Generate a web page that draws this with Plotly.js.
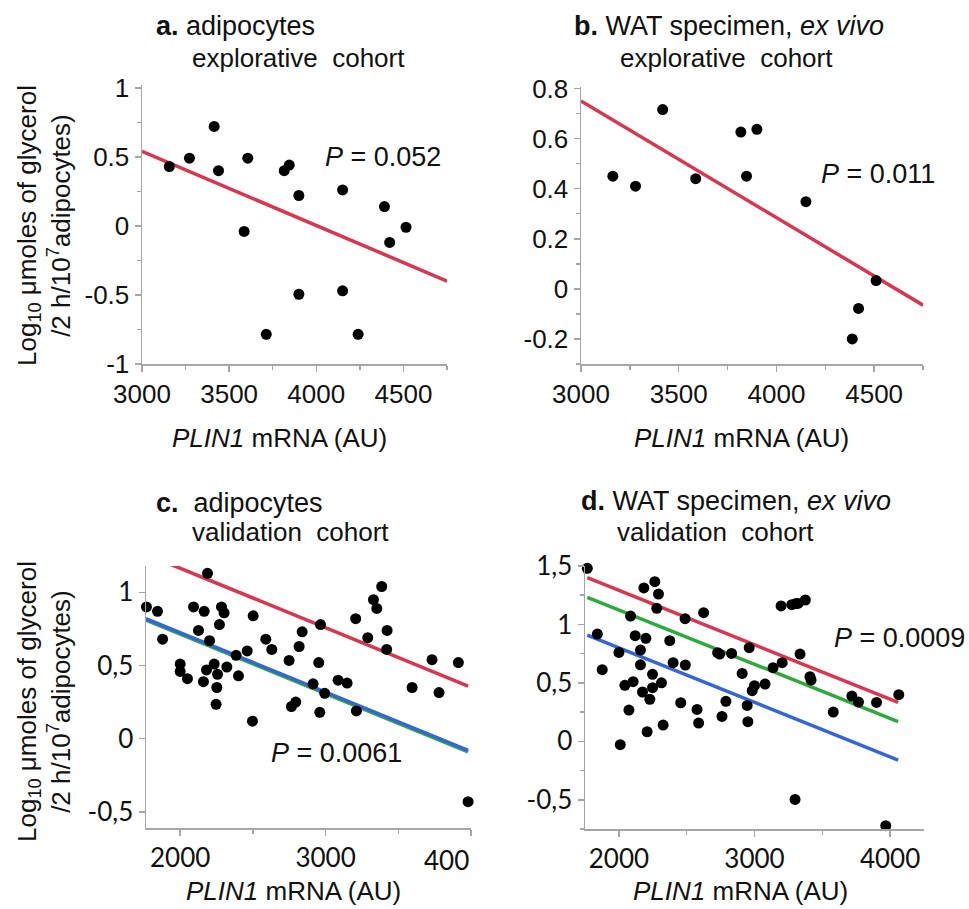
<!DOCTYPE html>
<html><head><meta charset="utf-8">
<script src="https://cdn.plot.ly/plotly-3.0.1.min.js"></script>
<style>html,body{margin:0;padding:0;background:#fff}</style>
</head><body>
<div id="chart" style="width:969px;height:909px"></div>
<script>
// ---------- DATA ----------
// Panel a: adipocytes, explorative cohort
const aX = [3157,3272,3414,3439,3607,3586,3713,3816,3845,3900,3900,4151,4151,4240,4391,4421,4515];
const aY = [0.43,0.49,0.72,0.40,0.49,-0.04,-0.785,0.40,0.44,0.22,-0.495,0.26,-0.47,-0.785,0.14,-0.12,-0.01];
const aFitX = [3000,4750];
const aFitY = [0.54,-0.40];
const aP = "<i>P</i> = 0.052";

// Panel b: WAT specimen ex vivo, explorative cohort
const bX = [3163,3279,3418,3587,3818,3900,3847,4151,4388,4420,4510];
const bY = [0.45,0.41,0.716,0.44,0.626,0.637,0.45,0.348,-0.20,-0.078,0.033];
const bFitX = [3000,4750];
const bFitY = [0.75,-0.065];
const bP = "<i>P</i> = 0.011";

// Panel c: adipocytes, validation cohort
const cX = [1768,1844,1879,2000,2000,2050,2092,2126,2165,2160,2188,2202,2181,2234,2257,2252,2247,2270,2284,2302,2321,2385,2401,2461,2502,2497,2589,2630,2749,2765,2795,2818,2839,2914,2953,2965,2960,2994,3086,3148,3207,3212,3290,3329,3352,3386,3423,3420,3595,3732,3780,3913,3980];
const cY = [0.90,0.87,0.68,0.51,0.46,0.41,0.90,0.74,0.87,0.39,1.13,0.67,0.47,0.51,0.44,0.35,0.235,0.78,0.90,0.86,0.49,0.57,0.43,0.60,0.84,0.12,0.68,0.61,0.535,0.22,0.25,0.63,0.73,0.375,0.52,0.78,0.18,0.31,0.40,0.38,0.82,0.19,0.69,0.95,0.89,1.04,0.74,0.61,0.35,0.54,0.315,0.52,-0.43];
const cRedX = [1938,3980];  const cRedY = [1.19,0.36];
const cGreenX = [1764,3980]; const cGreenY = [0.81,-0.09];
const cBlueX = [1764,3980]; const cBlueY = [0.82,-0.08];
const cP = "<i>P</i> = 0.0061";

// Panel d: WAT specimen ex vivo, validation cohort
const dX = [1767,1841,1877,2000,2010,2044,2074,2086,2105,2120,2159,2159,2174,2184,2199,2208,2228,2248,2248,2265,2279,2292,2314,2326,2375,2400,2456,2488,2490,2576,2588,2625,2728,2743,2760,2789,2831,2909,2946,2951,2961,2983,3000,3078,3137,3196,3204,3275,3299,3307,3321,3336,3375,3409,3417,3581,3718,3767,3900,3968,4064];
const dY = [1.48,0.918,0.613,0.761,-0.029,0.479,0.267,1.072,0.510,0.904,0.781,0.655,0.422,1.312,0.881,0.082,0.359,0.573,0.459,1.366,1.138,1.260,0.501,0.139,0.861,0.673,0.330,1.049,0.653,0.273,0.156,1.101,0.758,0.747,0.213,0.342,0.752,0.581,0.307,0.168,0.801,0.433,0.476,0.490,0.630,1.158,0.673,1.169,-0.497,1.180,1.180,0.747,1.209,0.553,0.524,0.250,0.387,0.336,0.333,-0.722,0.399];
const dRedX = [1767,4059];   const dRedY = [1.40,0.333];
const dGreenX = [1767,4059]; const dGreenY = [1.232,0.168];
const dBlueX = [1767,4059];  const dBlueY = [0.909,-0.16];
const dP = "<i>P</i> = 0.0009";

// Tick labels
const abXTickVals = [3000,3500,4000,4500];
const abXTickText = ['3000','3500','4000','4500'];
const aYTickVals = [-1,-0.5,0,0.5,1];
const aYTickText = ['-1','-0.5','0','0.5','1'];
const bYTickVals = [-0.2,0,0.2,0.4,0.6,0.8];
const bYTickText = ['-0.2','0','0.2','0.4','0.6','0.8'];
const cXTickVals = [2000,3000,4000];
const cXTickText = ['2000','3000',' '];
const cXClippedLabel = '400';
const cYTickVals = [-0.5,0,0.5,1];
const cYTickText = ['-0,5','0','0,5','1'];
const dXTickVals = [2000,3000,4000];
const dXTickText = ['2000','3000','4000'];
const dYTickVals = [-0.5,0,0.5,1,1.5];
const dYTickText = ['-0,5','0','0,5','1','1,5'];

// Texts
const titles = {
  a1: '<b>a.</b> adipocytes', a2: 'explorative  cohort',
  b1: '<b>b.</b> WAT specimen, <i>ex vivo</i>', b2: 'explorative  cohort',
  c1: '<b>c.</b>  adipocytes', c2: 'validation  cohort',
  d1: '<b>d.</b> WAT specimen, <i>ex vivo</i>', d2: 'validation  cohort'
};
const xTitle = '<i>PLIN1</i> mRNA (AU)';
const yTitle = 'Log<sub>10</sub> μmoles of glycerol<br>/2 h/10<sup>7</sup>adipocytes)';

// ---------- LAYOUT HELPERS ----------
const W = 969, H = 909;
const px = v => v / W;
const py = v => 1 - v / H;

const RED = '#d9374f', GREEN = '#2eaa3c', BLUE = '#3466d6';
const AX = '#a6a6a6';
const TXT = '#111111';
const topFont = {family:'Liberation Sans, Arial, sans-serif', size:26, color:TXT};
const botFont = {family:'Lato, Liberation Sans, sans-serif', size:26, color:TXT};

function axis(domain, range, tickvals, ticktext, font, minorDtick, anchor) {
  const o = {
    domain: domain, range: range, anchor: anchor,
    tickmode: 'array', tickvals: tickvals, ticktext: ticktext,
    ticks: 'outside', ticklen: 6, tickwidth: 1.5, tickcolor: AX,
    showline: true, linecolor: AX, linewidth: 1.5,
    showgrid: false, zeroline: false, tickfont: font, fixedrange: true
  };
  if (minorDtick) {
    o.minor = {dtick: minorDtick, ticks: 'outside', ticklen: 4, tickwidth: 1.5, tickcolor: AX, showgrid: false};
  }
  return o;
}

function pts(x, y, xa, ya) {
  return {x: x, y: y, xaxis: xa, yaxis: ya, type: 'scatter', mode: 'markers',
    marker: {color: '#000', size: 11}, hoverinfo: 'skip', cliponaxis: false};
}
function fit(x, y, xa, ya, color) {
  return {x: x, y: y, xaxis: xa, yaxis: ya, type: 'scatter', mode: 'lines',
    line: {color: color, width: 3.5}, hoverinfo: 'skip'};
}

const data = [
  fit(aFitX, aFitY, 'x', 'y', RED), pts(aX, aY, 'x', 'y'),
  fit(bFitX, bFitY, 'x2', 'y2', RED), pts(bX, bY, 'x2', 'y2'),
  fit(cRedX, cRedY, 'x3', 'y3', RED), fit(cGreenX, cGreenY, 'x3', 'y3', GREEN),
  fit(cBlueX, cBlueY, 'x3', 'y3', BLUE), pts(cX, cY, 'x3', 'y3'),
  fit(dRedX, dRedY, 'x4', 'y4', RED), fit(dGreenX, dGreenY, 'x4', 'y4', GREEN),
  fit(dBlueX, dBlueY, 'x4', 'y4', BLUE), pts(dX, dY, 'x4', 'y4')
];

const titleFont = {family:'Liberation Sans, Arial, sans-serif', size:26, color:TXT};
const title1Font = {family:'Liberation Sans, Arial, sans-serif', size:27, color:TXT};
const pFont = {family:'Liberation Sans, Arial, sans-serif', size:27, color:TXT};
function ann(text, x, y, font, xanchor, extra) {
  return Object.assign({text: text, x: px(x), y: py(y), xref: 'paper', yref: 'paper',
    showarrow: false, font: font, xanchor: xanchor || 'center', yanchor: 'middle'}, extra || {});
}

const annotations = [
  ann(titles.a1, 154, 26, title1Font, 'left'),
  ann(titles.a2, 190, 58, titleFont, 'left'),
  ann(titles.b1, 572, 26, title1Font, 'left'),
  ann(titles.b2, 618, 58, titleFont, 'left'),
  ann(titles.c1, 154, 503, title1Font, 'left'),
  ann(titles.c2, 190, 532, titleFont, 'left'),
  ann(titles.d1, 579, 501, title1Font, 'left'),
  ann(titles.d2, 615, 532, titleFont, 'left'),
  ann(aP, 323, 157, pFont, 'left'),
  ann(bP, 819, 174, pFont, 'left'),
  ann(cP, 269, 753, pFont, 'left'),
  ann(dP, 832, 638, pFont, 'left'),
  ann(xTitle, 279, 438, titleFont),
  ann(xTitle, 741, 438, titleFont),
  ann(xTitle, 293, 891, titleFont),
  ann(xTitle, 740, 891, titleFont),
  ann(yTitle, 44, 226, titleFont, 'center', {textangle: -90}),
  ann(yTitle, 44, 702, titleFont, 'center', {textangle: -90}),
  ann(cXClippedLabel, 471, 860, botFont, 'right')
];

const layout = {
  width: W, height: H, margin: {l:0, r:0, t:0, b:0},
  paper_bgcolor: '#fff', plot_bgcolor: '#fff', showlegend: false,
  xaxis:  axis([px(142), px(447)], [3000, 4750], abXTickVals, abXTickText, topFont, 250, 'y'),
  yaxis:  axis([py(364), py(85)], [-1, 1.02], aYTickVals, aYTickText, topFont, 0.25, 'x'),
  xaxis2: axis([px(581), px(923)], [3000, 4750], abXTickVals, abXTickText, topFont, 250, 'y2'),
  yaxis2: axis([py(364), py(87)], [-0.3, 0.806], bYTickVals, bYTickText, topFont, 0.1, 'x2'),
  xaxis3: axis([px(146), px(471)], [1765, 4000], cXTickVals, cXTickText, botFont, 500, 'y3'),
  yaxis3: axis([py(828), py(566)], [-0.61, 1.18], cYTickVals, cYTickText, botFont, null, 'x3'),
  xaxis4: axis([px(585), px(924)], [1750, 4250], dXTickVals, dXTickText, botFont, 500, 'y4'),
  yaxis4: axis([py(829), py(566)], [-0.75, 1.5], dYTickVals, dYTickText, botFont, 0.25, 'x4'),
  annotations: annotations
};

Plotly.newPlot('chart', data, layout, {staticPlot: true, displayModeBar: false});
</script>
</body></html>
